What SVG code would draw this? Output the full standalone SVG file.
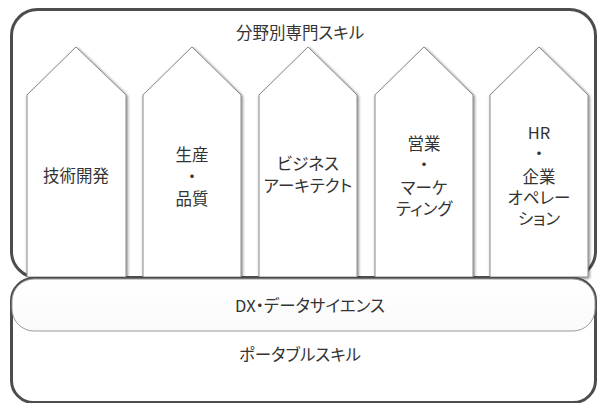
<svg xmlns="http://www.w3.org/2000/svg" width="598" height="403" viewBox="0 0 598 403">
<defs>
<filter id="sh" x="-20%" y="-20%" width="140%" height="140%">
<feDropShadow dx="1" dy="1" stdDeviation="1.8" flood-color="#000" flood-opacity="0.55"/>
</filter>
<linearGradient id="band" x1="0" y1="0" x2="0" y2="1">
<stop offset="0" stop-color="#ffffff"/>
<stop offset="1" stop-color="#fafafa"/>
</linearGradient>
</defs>
<style>
.frame{fill:#fff;stroke:#4d4d4d;stroke-width:3}
.house{fill:#fff;stroke:#8a8a8a;stroke-width:1;filter:url(#sh)}
.band{fill:url(#band);stroke:#9a9a9a;stroke-width:1}
text{font-family:"Noto Sans CJK JP","Noto Sans",sans-serif;font-size:16.5px;fill:#333;text-anchor:middle;dominant-baseline:central;font-feature-settings:"palt"}
</style>
<rect width="598" height="403" fill="#fff"/>
<g id="specialty">
<rect class="frame" x="11.5" y="9.5" width="584" height="268" rx="26"/>
<text x="300" y="32">分野別専門スキル</text>
</g>
<g id="house1">
<path class="house" d="M27,95 L76,47 L126,95 L126,277 L27,277 Z"/>
<text x="76" y="175">技術開発</text>
</g>
<g id="house2">
<path class="house" d="M143,95 L192,47 L241,95 L241,277 L143,277 Z"/>
<text x="192" y="154">生産</text>
<text x="192" y="176">・</text>
<text x="192" y="198">品質</text>
</g>
<g id="house3">
<path class="house" d="M259,95 L308,47 L357,95 L357,277 L259,277 Z"/>
<text x="308" y="163">ビジネス</text>
<text x="308" y="185">アーキテクト</text>
</g>
<g id="house4">
<path class="house" d="M375,95 L424,47 L473,95 L473,277 L375,277 Z"/>
<text x="424" y="143">営業</text>
<text x="424" y="164">・</text>
<text x="424" y="187">マーケ</text>
<text x="424" y="208">ティング</text>
</g>
<g id="house5">
<path class="house" d="M490,95 L539,47 L588,95 L588,277 L490,277 Z"/>
<text x="539" y="132">HR</text>
<text x="539" y="153">・</text>
<text x="539" y="176">企業</text>
<text x="539" y="197">オペレー</text>
<text x="539" y="218">ション</text>
</g>
<g id="portable">
<rect class="frame" x="11.5" y="278.5" width="584" height="124" rx="22"/>
<text x="300" y="354">ポータブルスキル</text>
</g>
<g id="dx">
<rect class="band" x="12" y="279" width="583" height="52" rx="22"/>
<text x="310" y="305">DX・データサイエンス</text>
</g>
<g id="connectors"/>
</svg>
